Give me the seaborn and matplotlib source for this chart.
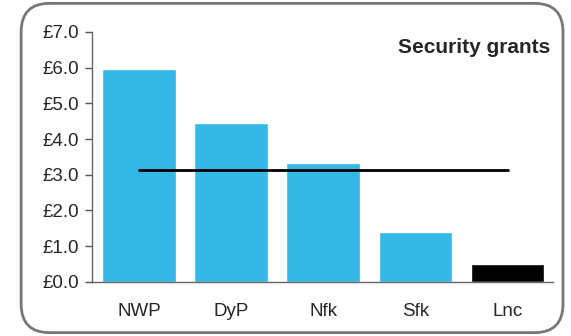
import matplotlib
matplotlib.use("Agg")
import matplotlib.pyplot as plt
import seaborn as sns
import numpy as np
import pandas as pd
from matplotlib.patches import FancyBboxPatch

areas = ["NWP", "DyP", "Nfk", "Sfk", "Lnc"]
grants = [5.95, 4.46, 3.33, 1.41, 0.51]
bar_colors = ["#33B8E8", "#33B8E8", "#33B8E8", "#33B8E8", "#000000"]

sns.set_style("white")
plt.rcParams['font.family'] = ['Liberation Sans', 'DejaVu Sans']

df = pd.DataFrame({"area": areas, "grant": grants})

fig = plt.figure(figsize=(5.71, 3.36), dpi=100)
ax = fig.add_axes([0.161, 0.161, 0.807, 0.744])

sns.barplot(data=df, x="area", y="grant", hue="area", palette=bar_colors,
            width=0.8, saturation=1, legend=False, ax=ax)

# average line from first to last bar
avg = np.mean(grants)
ax.plot([0, len(areas) - 1], [avg, avg], color="black", lw=2, zorder=5)

ax.set_xlim(-0.51, 4.49)
ax.set_ylim(0, 7)
ax.set_yticks(np.arange(0, 7.1, 1))
ax.set_yticklabels([f"£{v:.1f}" for v in np.arange(0, 7.1, 1)], fontsize=13.5)
ax.tick_params(axis="x", length=0, pad=15, labelsize=13.5)
ax.tick_params(axis="y", left=True, length=5, width=1, color="#555555", pad=4)
ax.set_xlabel("")
ax.set_ylabel("")
for s in ["top", "right"]:
    ax.spines[s].set_visible(False)
for s in ["left", "bottom"]:
    ax.spines[s].set_color("#666666")
    ax.spines[s].set_linewidth(1)

ax.text(0.995, 0.975, "Security grants", transform=ax.transAxes,
        ha="right", va="top", fontsize=15, fontweight="bold")

# rounded frame round the chart
frame = FancyBboxPatch((0.037, 0.01), 0.949, 0.98,
                       boxstyle="round,pad=0,rounding_size=0.05",
                       transform=fig.transFigure, fill=False,
                       edgecolor="#777777", lw=2, mutation_aspect=571 / 336)
fig.patches.append(frame)

fig.savefig("out.png", dpi=100)
